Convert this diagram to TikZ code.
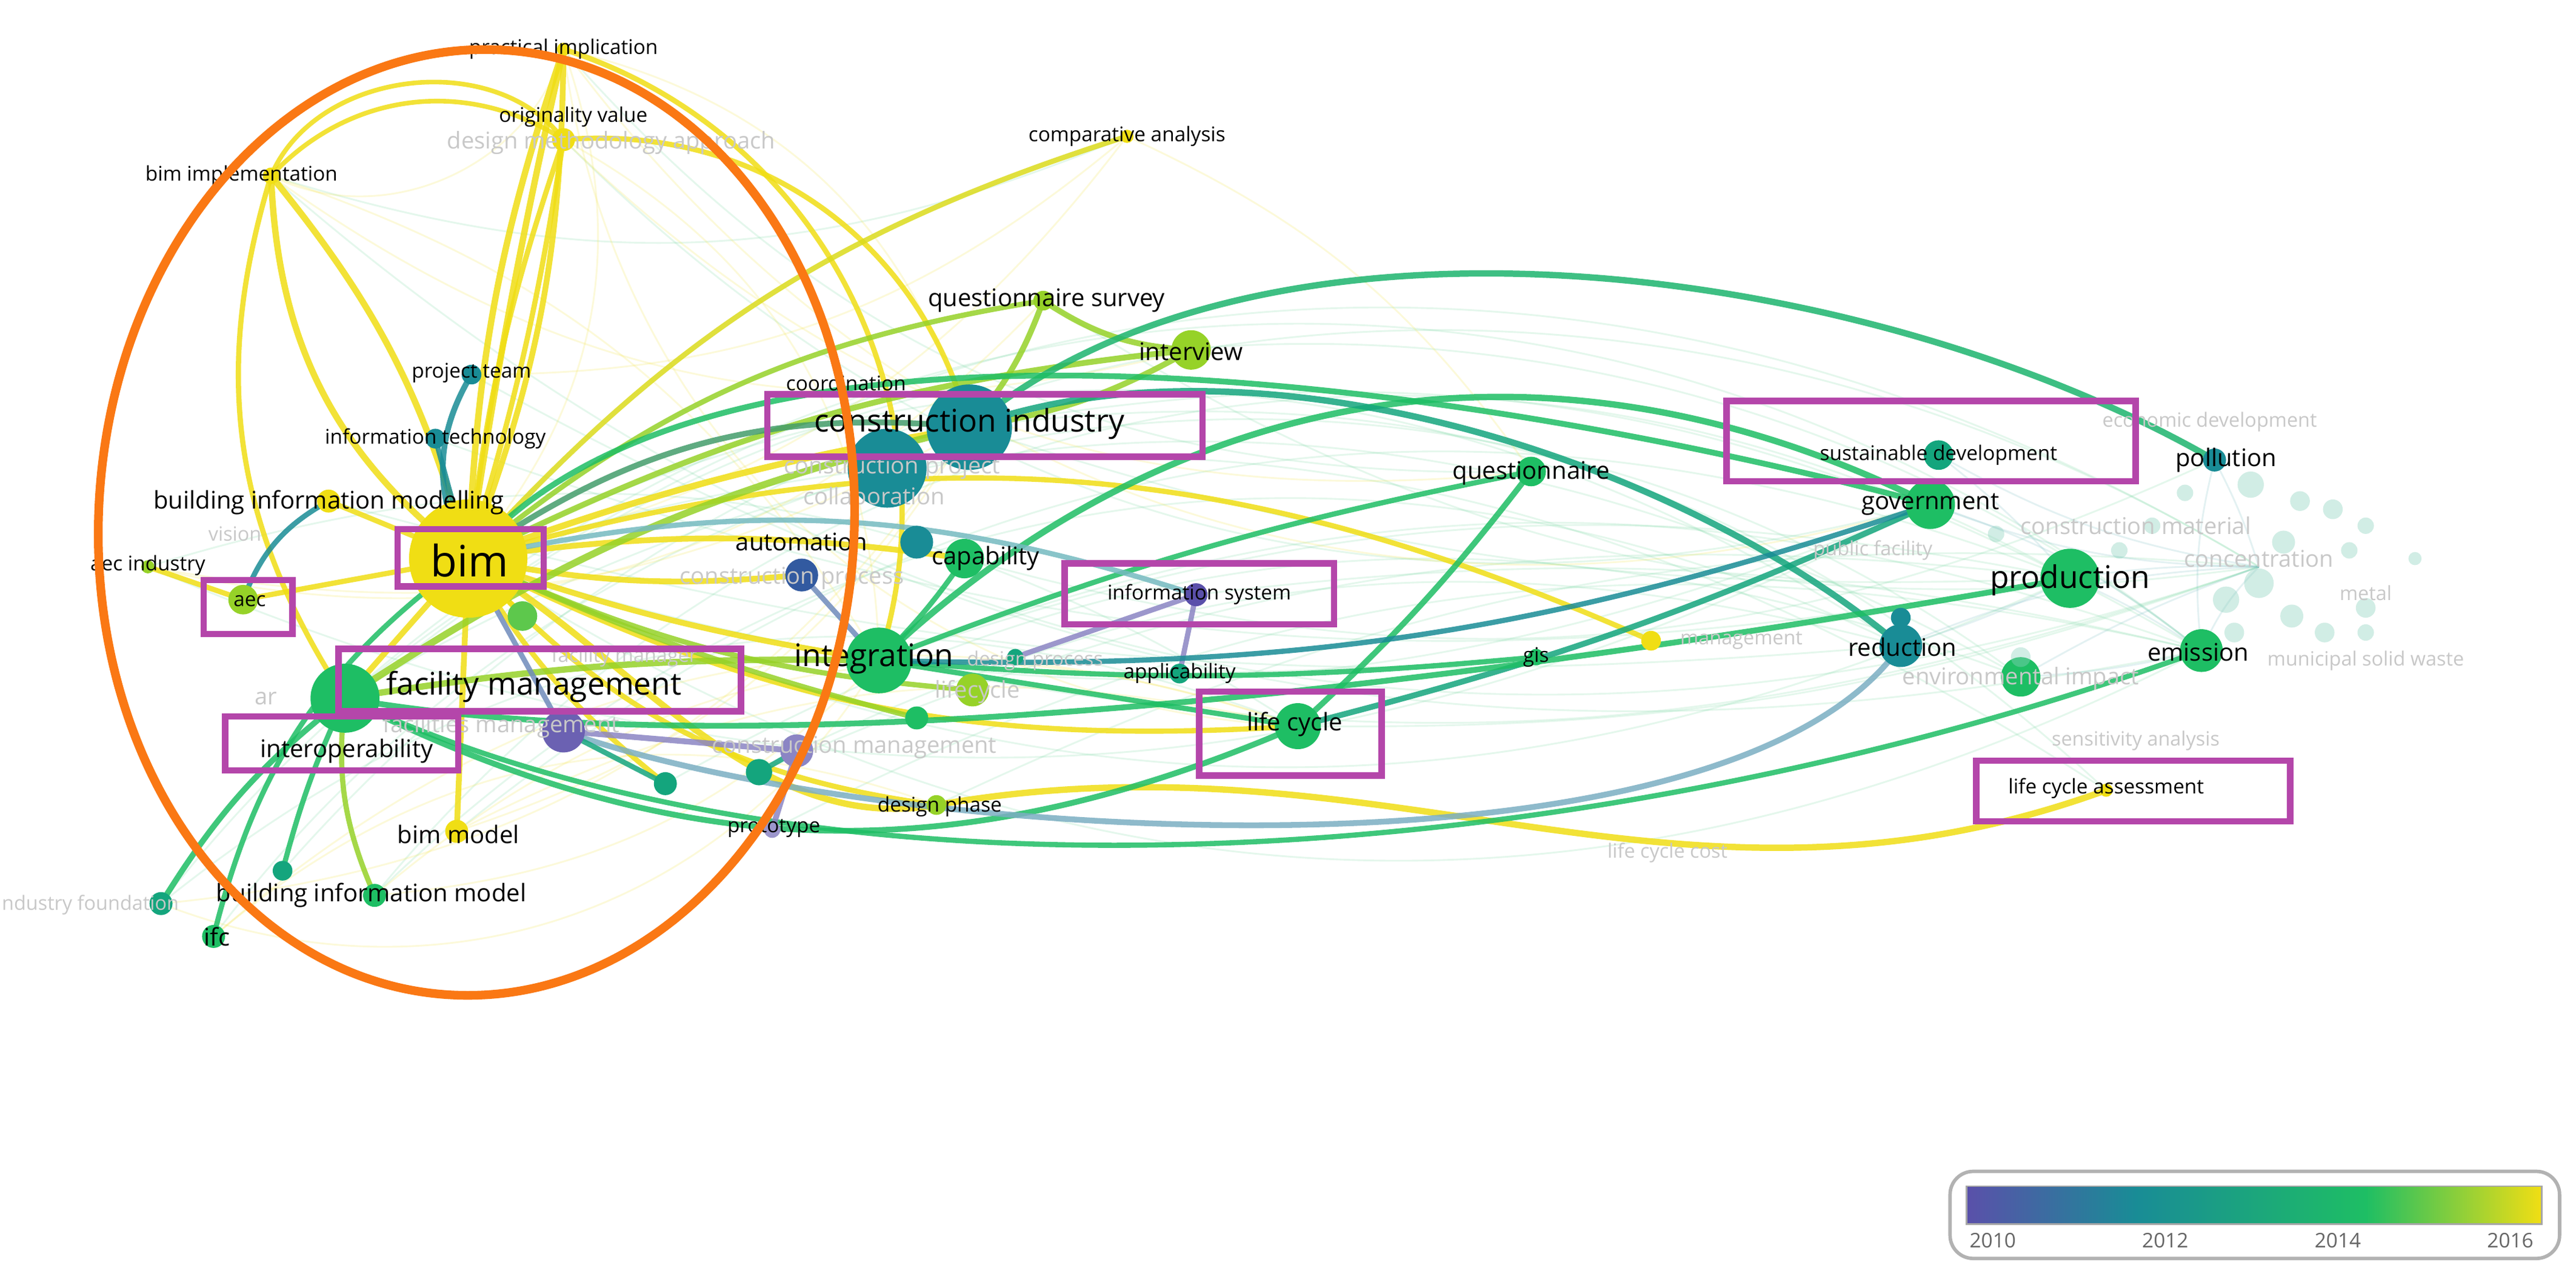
\documentclass[tikz,border=0pt]{standalone}
\usepackage{fontspec}
\setmainfont{Open Sans}
\usetikzlibrary{shapes.geometric}
\definecolor{cY}{RGB}{240,222,20}
\definecolor{cYG}{RGB}{150,210,40}
\definecolor{cG}{RGB}{30,190,100}
\definecolor{cGT}{RGB}{20,165,125}
\definecolor{cT}{RGB}{25,140,150}
\definecolor{cB}{RGB}{50,90,160}
\definecolor{cP}{RGB}{90,80,170}
\definecolor{cMag}{RGB}{180,70,170}
\definecolor{cOr}{RGB}{250,120,20}
\definecolor{cLt}{RGB}{200,200,200}
\tikzset{
 dot/.style={circle,inner sep=0pt,minimum size=#1},
 lab/.style={font=\fontsize{3.5}{4}\selectfont,text=black,inner sep=0.5pt},
 labM/.style={font=\fontsize{4.2}{5}\selectfont,text=black,inner sep=0.5pt},
 labL/.style={font=\fontsize{5.4}{6}\selectfont,text=black,inner sep=0.5pt},
 labX/.style={font=\fontsize{7.5}{8}\selectfont,text=black,inner sep=0.5pt},
 ghost/.style={font=\fontsize{4.0}{5}\selectfont,text=cLt,inner sep=0.5pt},
 ghostS/.style={font=\fontsize{3.4}{4}\selectfont,text=cLt,inner sep=0.5pt},
 box/.style={draw=cMag,line width=1.1pt},
 e/.style={line width=#1,opacity=0.85},
 faint/.style={line width=0.3pt,opacity=0.2},
}
\begin{document}
\begin{tikzpicture}[x=0.01cm,y=-0.01cm]
\useasboundingbox (0,0) rectangle (1568,782);
\fill[white] (0,0) rectangle (1568,782);
\coordinate (bim) at (285,340);
\coordinate (ci) at (590,260);
\coordinate (fm) at (210,425);
\coordinate (int) at (535,402);
\coordinate (prod) at (1260,352);
\coordinate (gov) at (1175,307);
\coordinate (emi) at (1340,396);
\coordinate (red) at (1157,393);
\coordinate (pol) at (1348,280);
\coordinate (sd) at (1180,277);
\coordinate (cap) at (587,340);
\coordinate (itv) at (725,213);
\coordinate (lc) at (790,442);
\coordinate (is) at (728,362);
\coordinate (aut) at (488,350);
\coordinate (qn) at (932,287);
\coordinate (gis) at (935,400);
\coordinate (qs) at (635,183);
\coordinate (ca) at (686,83);
\coordinate (pi) at (343,30);
\coordinate (ov) at (343,85);
\coordinate (bi) at (165,107);
\coordinate (pt) at (287,228);
\coordinate (it) at (265,267);
\coordinate (bimg) at (200,305);
\coordinate (aecI) at (90,345);
\coordinate (aec) at (148,365);
\coordinate (bm) at (278,506);
\coordinate (bimo) at (228,545);
\coordinate (ifc) at (130,570);
\coordinate (pro) at (470,505);
\coordinate (dp) at (570,490);
\coordinate (app) at (718,410);
\coordinate (lca) at (1282,481);
\coordinate (yl) at (1005,390);
\coordinate (cp) at (540,285);
\coordinate (fmg) at (343,445);
\coordinate (cm) at (485,457);
\coordinate (x1) at (462,470);
\coordinate (x2) at (405,477);
\coordinate (x3) at (98,550);
\coordinate (x4) at (172,530);
\coordinate (x5) at (318,375);
\coordinate (x6) at (558,330);
\coordinate (x7) at (592,420);
\coordinate (x8) at (558,437);
\coordinate (ei) at (1230,412);
\coordinate (dsp) at (618,400);
\coordinate (cn) at (1375,345);
% faint background edges
\foreach \a/\b/\bb in {bim/prod/-25,bim/emi/-30,ci/emi/20,int/prod/15,bim/red/30,fm/cn/35,bim/gov/-20,ci/prod/-10,int/emi/20,bimo/red/35,x3/lc/30,bi/ca/-20,pi/qn/-25,ov/gov/-30,aecI/lc/25,fm/emi/40,ci/lca/25,int/cn/-15,qs/cn/-20,bim/lca/25,fm/ei/30,cap/pol/-20,bimo/prod/40,x3/emi/45,ifc/ei/45,aecI/gov/-25,bi/cn/-30,it/prod/-15,pt/emi/-20,bimg/red/-10,x4/cn/40,bm/prod/30,pro/emi/20,dp/cn/15,lc/cn/-10,app/prod/-5,is/emi/10,cm/red/20,x1/prod/15,x2/ei/25}
  \draw[faint,cG!60] (\a) to[bend left=\bb] (\b);
\foreach \a/\b/\bb in {bim/pi/-30,bim/ca/-20,pi/ci/30,ov/int/30,bi/int/20,aecI/ci/-20,bimo/int/-20,x3/ci/-25,ifc/lc/30,bm/ci/-20,pi/lc/-40,ca/qn/15,pi/gov/-35,ov/qn/-25,bi/itv/-25,aecI/qs/-30,x3/int/-40,ifc/dp/30,bimo/lc/30,bm/lc/20,bi/pi/-50,pt/ca/-20}
  \draw[faint,cY!80] (\a) to[bend left=\bb] (\b);
\foreach \a/\b/\bb in {red/cn/10,gov/cn/-10,prod/cn/5,emi/cn/10,pol/cn/5,prod/emi/5,sd/prod/5,ei/emi/-5,gov/emi/10,sd/cn/-10,red/prod/-5,ei/cn/5,pol/emi/-10}
  \draw[faint,cT!60] (\a) to[bend left=\bb] (\b);
% strong edges
\draw[e=1.1pt,cY] (bim) to[bend left=8] (pi);
\draw[e=1.1pt,cY] (bim) to[bend left=2] (pi);
\draw[e=1pt,cY] (bim) to[bend right=10] (pi);
\draw[e=0.9pt,cY] (bim) to[bend right=4] (ov);
\draw[e=0.9pt,cY] (bim) to[bend left=6] (ov);
\draw[e=1.1pt,cY] (bim) to[bend left=25] (bi);
\draw[e=1.1pt,cY] (bim) to[bend right=12] (bi);
\draw[e=0.9pt,cY] (fm) to[bend left=25] (bi);
\draw[e=0.8pt,cY] (bi) to[bend left=40] (ov);
\draw[e=0.8pt,cY] (bi) to[bend left=60] (ov);
\draw[e=0.9pt,cY] (int) to[bend right=45] (pi);
\draw[e=0.9pt,cY] (ci) to[bend right=40] (ov);
\draw[e=0.9pt,cY!90!cG] (bim) to[bend left=15] (ca);
\draw[e=1.1pt,cY] (bim) to[bend left=5] (ci);
\draw[e=1pt,cY] (bim) to[bend left=8] (cap);
\draw[e=1pt,cY] (bim) to[bend right=5] (int);
\draw[e=1pt,cY] (bim) to[bend right=8] (aut);
\draw[e=0.9pt,cY] (bim) -- (bimg);
\draw[e=0.9pt,cY] (bim) -- (aec);
\draw[e=0.9pt,cY] (aec) -- (aecI);
\draw[e=1pt,cY] (bim) -- (bm);
\draw[e=1pt,cY] (bim) -- (fm);
\draw[e=0.9pt,cY] (bim) -- (x5);
\draw[e=0.9pt,cY] (bim) to[bend right=10] (x2);
\draw[e=0.9pt,cY] (bim) to[bend left=20] (yl);
\draw[e=1.1pt,cY] (bim) to[out=-30,in=190,looseness=0.9] (dp) to[out=10,in=200] (lca);
\draw[e=0.9pt,cY] (bim) to[bend right=20] (dp);
\draw[e=0.9pt,cY] (bim) to[bend right=15] (lc);
\draw[e=1pt,cYG] (bim) to[bend left=10] (itv);
\draw[e=0.9pt,cYG] (bim) to[bend left=15] (qs);
\draw[e=0.9pt,cYG] (bim) to[bend right=10] (x7);
\draw[e=0.9pt,cYG] (bim) to[bend right=5] (x8);
\draw[e=1.2pt,cYG] (fm) to[bend left=10] (ci);
\draw[e=1.1pt,cYG] (fm) to[bend left=5] (int);
\draw[e=0.9pt,cYG] (fm) to[bend right=15] (bimo);
\draw[e=1pt,cG] (fm) to[bend right=10] (x3);
\draw[e=0.9pt,cG] (fm) to[bend right=5] (x4);
\draw[e=0.9pt,cG] (bim) to[bend right=20] (ifc);
\draw[e=0.9pt,cT] (aec) to[bend left=20] (bimg);
\draw[e=1pt,cT] (bim) to[bend left=30] (pt);
\draw[e=0.9pt,cT] (bim) -- (it);
\draw[e=0.9pt,cG] (int) to[bend left=5] (qn);
\draw[e=1pt,cG] (qn) to[bend left=5] (lc);
\draw[e=0.9pt,cG] (int) -- (lc);
\draw[e=1pt,cGT] (lc) to[bend left=-5] (gov);
\draw[e=0.9pt,cG] (gis) to[bend left=5] (int);
\draw[e=0.9pt,cG] (cap) to[bend left=5] (int);
\draw[e=1pt,cG] (fm) to[bend right=25] (lc);
\draw[e=1pt,cYG] (qs) to[bend right=15] (itv);
\draw[e=1pt,cYG] (ci) to[bend right=10] (qs);
\draw[e=1pt,cYG] (ci) to[bend right=10] (itv);
\draw[e=1.1pt,cG] (int) to[bend left=35] (gov);
\draw[e=1.1pt,cG!80!cT] (ci) to[out=40,in=150,looseness=0.8] (pol);
\draw[e=1.1pt,cGT] (ci) to[out=20,in=140,looseness=0.8] (red);
\draw[e=1pt,cG] (bim) to[out=50,in=165,looseness=0.7] (gov);
\draw[e=1pt,cG] (fm) to[out=-10,in=190,looseness=0.7] (prod);
\draw[e=1pt,cT!60!cB!60] (fmg) to[out=-20,in=235,looseness=0.6] (red);
\draw[e=0.9pt,cG] (fm) to[out=-25,in=200,looseness=0.8] (emi);
\draw[e=0.9pt,cP!70] (is) -- (app);
\draw[e=0.9pt,cP!70] (is) -- (dsp);
\draw[e=1pt,cP!70] (fmg) -- (cm);
\draw[e=1pt,cP!70] (cm) -- (pro);
\draw[e=0.9pt,cB!70] (bim) -- (fmg);
\draw[e=0.9pt,cB!70] (aut) -- (int);
\draw[e=0.9pt,cGT] (x2) -- (fmg);
\draw[e=0.9pt,cGT] (x1) -- (cm);
\draw[e=0.9pt,cT] (int) to[bend right=10] (gov);
\draw[e=0.9pt,cT!60] (bim) to[bend left=15] (is);
\draw[e=1pt,cG!70!black!80] (bim) to[bend left=20] (ci);
% dots
\fill[cY] (bim) circle (36);
\fill[cT] (ci) circle (26);
\fill[cT] (cp) circle (24);
\fill[cG] (fm) circle (21);
\fill[cG] (int) circle (20);
\fill[cG] (prod) circle (18);
\fill[cG] (gov) circle (15);
\fill[cG] (emi) circle (13);
\fill[cT] (red) circle (13);
\fill[cT] (red)+(0,-17) circle (6);
\fill[cT] (pol) circle (7);
\fill[cGT] (sd) circle (9);
\fill[cG] (cap) circle (12);
\fill[cT] (x6) circle (10);
\fill[cYG] (itv) circle (12);
\fill[cG] (lc) circle (14);
\fill[cP] (is) circle (7);
\fill[cB] (aut) circle (10);
\fill[cG] (qn) circle (9);
\fill[cG] (gis) circle (5);
\fill[cYG] (qs) circle (6);
\fill[cY] (ca) circle (4);
\fill[cY] (pi) circle (4);
\fill[cY] (ov) circle (7);
\fill[cY] (bi) circle (5);
\fill[cT] (pt) circle (6);
\fill[cT] (it) circle (6);
\fill[cY] (bimg) circle (7);
\fill[cYG] (aecI) circle (4);
\fill[cYG] (aec) circle (9);
\fill[cY] (bm) circle (7);
\fill[cG] (bimo) circle (7);
\fill[cG] (ifc) circle (7);
\fill[cP!60] (pro) circle (5);
\fill[cYG] (dp) circle (6);
\fill[cGT] (app) circle (6);
\fill[cY] (lca) circle (4);
\fill[cY] (yl) circle (6);
\fill[cP!90] (fmg) circle (13);
\fill[cP!70] (cm) circle (10);
\fill[cGT] (x1) circle (8);
\fill[cGT] (x2) circle (7);
\fill[cGT] (x3) circle (7);
\fill[cGT] (x4) circle (6);
\fill[cG!70!cY] (x5) circle (9);
\fill[cYG] (x7) circle (10);
\fill[cG] (x8) circle (7);
\fill[cG] (ei) circle (12);
\fill[cGT] (dsp) circle (5);
\foreach \p/\r in {{(1370,295)}/8,{(1400,305)}/6,{(1420,310)}/6,{(1390,330)}/7,{(1375,355)}/9,{(1355,365)}/8,{(1395,375)}/7,{(1440,370)}/6,{(1430,335)}/5,{(1415,385)}/6,{(1440,385)}/5,{(1330,300)}/5,{(1310,320)}/5,{(1360,385)}/6,{(1230,400)}/6,{(1440,320)}/5,{(1290,335)}/5,{(1470,340)}/4,{(1215,325)}/5}
  \fill[cT!50!cG!50,opacity=0.4] \p circle (\r);
% ghost labels
\node[ghost] (g1) at (372,87) {design methodology approach};
\node[ghost] (g2) at (543,285) {construction project};
\node[ghost] (g3) at (532,302) {collaboration};
\node[ghostS] (g4) at (143,325) {vision};
\node[ghost] (g5) at (482,352) {construction process};
\node[ghost] (g6) at (305,442) {facilities management};
\node[ghost] (g7) at (162,425) {ar};
\node[ghostS] (g8) at (630,402) {design process};
\node[ghost] (g9) at (595,421) {lifecycle};
\node[ghost] (g10) at (520,455) {construction management};
\node[ghostS] (g11) at (1345,257) {economic development};
\node[ghost] (g12) at (1300,320) {construction material};
\node[ghost] (g13) at (1375,340) {concentration};
\node[ghostS] (g14) at (1440,361) {metal};
\node[ghostS] (g15) at (1440,402) {municipal solid waste};
\node[ghost] (g16) at (1230,413) {environmental impact};
\node[ghostS] (g17) at (1300,451) {sensitivity analysis};
\node[ghostS] (g18) at (1015,519) {life cycle cost};
\node[ghostS] (g19) at (1140,335) {public facility};
\node[ghostS] (g20) at (55,551) {ndustry foundation};
\node[ghostS] (g21) at (1060,390) {management};
\node[ghostS] (g22) at (380,400) {facility manager};
% labels
\node[lab] (l1) at (343,30) {practical implication};
\node[lab] (l2) at (349,71) {originality value};
\node[lab] (l3) at (147,107) {bim implementation};
\node[lab] (l4) at (686,83) {comparative analysis};
\node[labM] (l5) at (637,183) {questionnaire survey};
\node[labM] (l6) at (725,214) {interview};
\node[lab] (l7) at (287,227) {project team};
\node[lab] (l8) at (515,233) {coordination};
\node[lab] (l9) at (265,267) {information technology};
\node[labL] (l10) at (590,258) {construction industry};
\node[labM] (l11) at (200,306) {building information modelling};
\node[lab] (l12) at (90,344) {aec industry};
\node[labX] (l13) at (286,341) {bim};
\node[lab] (l14) at (152,366) {aec};
\node[labM] (l15) at (488,330) {automation};
\node[labM] (l16) at (600,340) {capability};
\node[labM] (l17) at (932,288) {questionnaire};
\node[lab] (l18) at (730,362) {information system};
\node[labL] (l19) at (532,401) {integration};
\node[lab] (l20) at (718,410) {applicability};
\node[labL] (l21) at (325,418) {facility management};
\node[labM] (l22) at (788,441) {life cycle};
\node[lab] (l23) at (935,400) {gis};
\node[labM] (l24) at (211,457) {interoperability};
\node[labM] (l25) at (279,508) {bim model};
\node[lab] (l26) at (572,491) {design phase};
\node[lab] (l27) at (471,504) {prototype};
\node[labM] (l28) at (226,545) {building information model};
\node[labM] (l29) at (132,570) {ifc};
\node[lab] (l30) at (1180,277) {sustainable development};
\node[labM] (l31) at (1355,280) {pollution};
\node[labM] (l32) at (1175,307) {government};
\node[labL] (l33) at (1260,353) {production};
\node[labM] (l34) at (1158,394) {reduction};
\node[labM] (l35) at (1338,397) {emission};
\node[lab] (l36) at (1282,480) {life cycle assessment};
% highlight boxes
\draw[box] (242,322) rectangle (331,357);
\draw[box] (467,240) rectangle (732,278);
\draw[box] (124,353) rectangle (178,386);
\draw[box] (206,395) rectangle (451,433);
\draw[box] (137,436) rectangle (279,469);
\draw[box] (648,343) rectangle (812,380);
\draw[box] (730,421) rectangle (841,472);
\draw[box] (1051,244) rectangle (1300,293);
\draw[box] (1203,463) rectangle (1394,500);
% orange ellipse
\draw[cOr,line width=1.5pt,rotate around={-3:(290,318)}] (290,318) ellipse (230 and 288);
% colour bar
\draw[gray!60,rounded corners=4,line width=0.6pt] (1187,713) rectangle (1558,766);
\shade[left color=cP,right color=cT] (1197,722) rectangle (1300,745);
\shade[left color=cT,right color=cG] (1300,722) rectangle (1440,745);
\shade[left color=cG,right color=cY] (1440,722) rectangle (1547,745);
\draw[gray!70,line width=0.3pt] (1197,722) rectangle (1547,745);
\node[lab,text=gray!80!black] (y1) at (1213,755) {2010};
\node[lab,text=gray!80!black] (y2) at (1318,755) {2012};
\node[lab,text=gray!80!black] (y3) at (1423,755) {2014};
\node[lab,text=gray!80!black] (y4) at (1528,755) {2016};
\end{tikzpicture}
\end{document}
